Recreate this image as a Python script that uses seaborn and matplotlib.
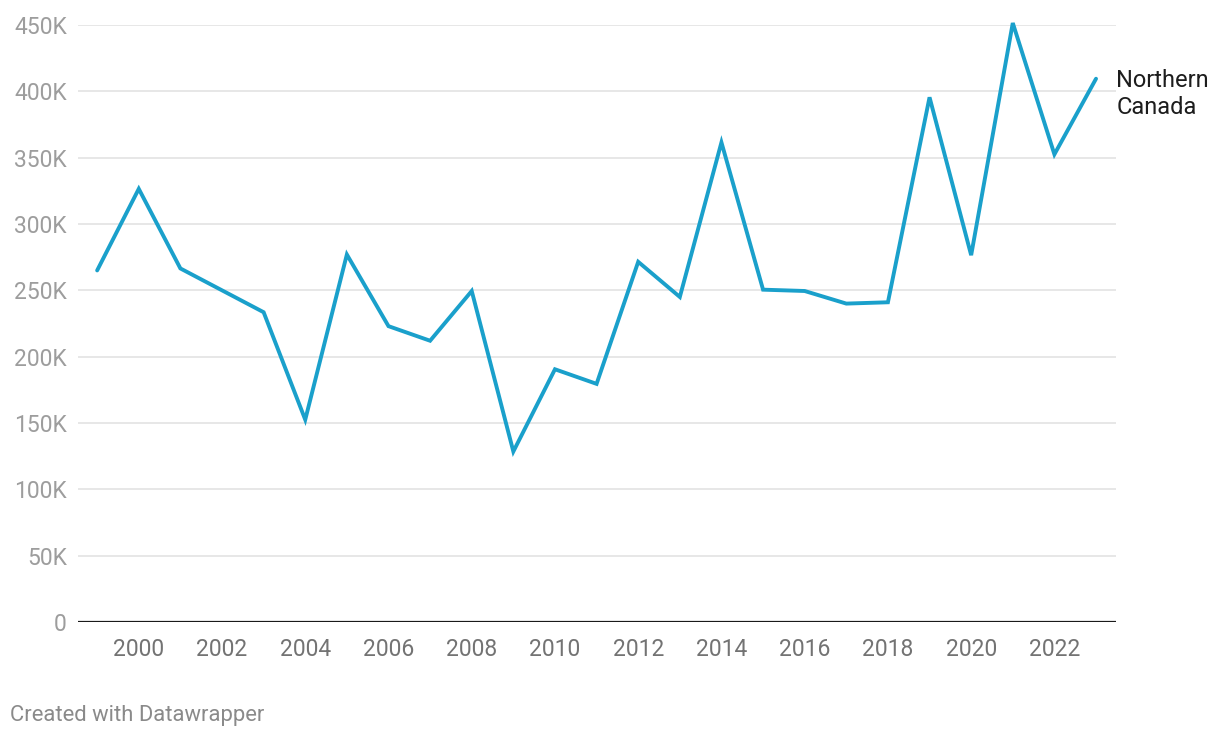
import matplotlib
matplotlib.use("Agg")
import matplotlib.pyplot as plt
import seaborn as sns
import pandas as pd

years = list(range(1999, 2024))
values = [265000, 326500, 266500, 250000, 233500, 152500, 277000, 223000, 212000, 249500,
          128500, 190500, 179500, 271500, 245000, 361500, 250500, 249500, 240000, 241000,
          395500, 276500, 451500, 352500, 409500]
series_label = "Northern\nCanada"
y_ticks = [0, 50000, 100000, 150000, 200000, 250000, 300000, 350000, 400000, 450000]
y_tick_labels = ["0", "50K", "100K", "150K", "200K", "250K", "300K", "350K", "400K", "450K"]
x_ticks = list(range(2000, 2024, 2))

df = pd.DataFrame({"year": years, "value": values})

sns.set_theme(style="white")
plt.rcParams["font.family"] = ["Roboto", "DejaVu Sans"]

fig = plt.figure(figsize=(12.2, 7.38), dpi=100)
ax = fig.add_axes([78/1220, 1-622/738, (1116-78)/1220, (622-25)/738])

for t in y_ticks[1:]:
    ax.axhline(t, color="#e3e3e3", lw=1.2, zorder=0)
ax.axhline(0, color="#1a1a1a", lw=1.6, zorder=3)

sns.lineplot(data=df, x="year", y="value", ax=ax, color="#1aa0cb", lw=2.8,
             solid_joinstyle="miter", zorder=4, clip_on=False)

ax.set_xlim(1998.54, 2023.48)
ax.set_ylim(0, 450000)
ax.set_yticks(y_ticks)
ax.set_yticklabels(y_tick_labels)
ax.set_xticks(x_ticks)
ax.set_xticklabels([str(x) for x in x_ticks])
ax.tick_params(axis="y", length=0, pad=8, labelsize=16.5, labelcolor="#9d9d9d")
ax.tick_params(axis="x", length=0, pad=11.5, labelsize=16.5, labelcolor="#737373")
ax.set_xlabel("")
ax.set_ylabel("")
for s in ax.spines.values():
    s.set_visible(False)

ax.annotate(series_label, xy=(years[-1], values[-1]), xytext=(14.5, -11),
            textcoords="offset points", fontsize=17, color="#1d1d1d",
            ha="left", va="center", linespacing=1.2, annotation_clip=False)

fig.text(10/1220, 1-715/738, "Created with Datawrapper", fontsize=15.8,
         color="#8a8a8a", ha="left", va="center")

fig.savefig("out.png", dpi=100)
